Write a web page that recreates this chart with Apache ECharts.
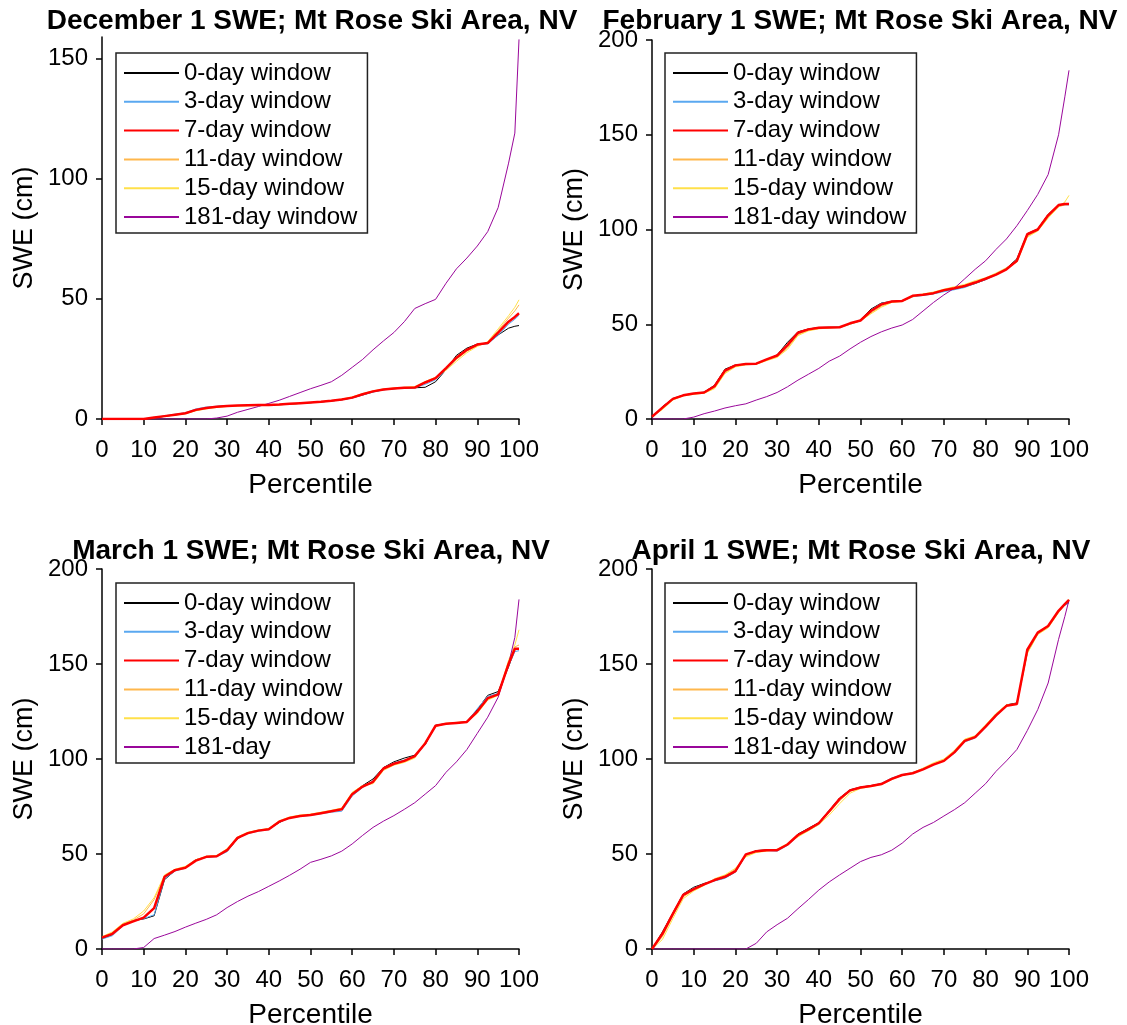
<!DOCTYPE html>
<html><head><meta charset="utf-8">
<script src="https://cdn.jsdelivr.net/npm/echarts@6/dist/echarts.min.js"></script>
<style>html,body{margin:0;padding:0;background:#fff}#c{width:1127px;height:1025px}</style>
</head><body><div id="c"></div>
<script>
const pct = [0,2.5,5,7.5,10,12.5,15,17.5,20,22.5,25,27.5,30,32.5,35,37.5,40,42.5,45,47.5,50,52.5,55,57.5,60,62.5,65,67.5,70,72.5,75,77.5,80,82.5,85,87.5,90,92.5,95,97.5,99,100];
const xTicks = [0,10,20,30,40,50,60,70,80,90,100];
const yTicksDec = [0,50,100,150];
const yTicks = [0,50,100,150,200];
const windowNames = ['0-day window','3-day window','7-day window','11-day window','15-day window'];
const titles = ['December 1 SWE; Mt Rose Ski Area, NV','February 1 SWE; Mt Rose Ski Area, NV','March 1 SWE; Mt Rose Ski Area, NV','April 1 SWE; Mt Rose Ski Area, NV'];
const longName181 = ['181-day window','181-day window','181-day','181-day window'];

// December 1
const dec0 = [0,0,0,0,0,0.5,1.1,1.7,2.3,3.6,4.7,5.2,5.5,5.6,5.7,5.8,5.9,6.0,6.2,6.5,6.8,7.1,7.5,8.0,8.8,10.0,11.3,12.2,12.6,12.9,13.0,13.2,15.5,20.5,26.5,29.5,31.2,31.5,35.0,37.8,38.6,38.9];
const dec3 = [0,0,0,0,0,0.6,1.3,2.0,2.6,4.2,5.0,5.3,5.5,5.6,5.7,5.8,5.8,5.9,6.2,6.5,6.8,7.1,7.5,8.0,8.7,10.0,11.2,12.1,12.6,12.9,13.0,14.4,16.3,20.6,25.0,28.5,30.8,31.3,34.8,39.5,41.5,43.2];
const dec7 = [0,0,0,0,0,0.6,1.2,1.8,2.4,3.8,4.6,5.1,5.4,5.6,5.7,5.8,5.8,6.0,6.3,6.6,6.9,7.2,7.6,8.1,8.9,10.3,11.5,12.3,12.7,13.0,13.1,15.2,17.0,21.2,25.5,28.8,31.0,31.6,36.0,40.5,42.5,44.0];
const dec11 = [0,0,0,0,0,0.6,1.2,1.8,2.3,3.6,4.4,5.0,5.3,5.5,5.6,5.7,5.8,5.9,6.2,6.5,6.8,7.2,7.6,8.2,9.1,10.5,11.6,12.4,12.8,13.1,13.3,15.4,17.2,20.8,24.8,28.2,30.6,31.8,36.8,42.0,45.0,47.5];
const dec15 = [0,0,0,0,0,0.5,1.1,1.6,2.2,3.4,4.2,4.8,5.2,5.4,5.5,5.6,5.7,5.9,6.2,6.5,6.8,7.2,7.6,8.3,9.2,10.6,11.7,12.5,12.9,13.2,13.5,15.6,17.4,20.3,24.0,27.6,30.2,32.2,37.5,43.0,46.5,49.6];
const dec181 = [0,0,0,0,0,0,0,0,0,0,0,0.4,1.2,2.8,4.0,5.2,6.5,7.8,9.4,11.0,12.6,14.0,15.5,18.2,21.5,24.8,28.8,32.5,36.0,40.5,46.0,48.0,49.8,56.5,62.5,67.0,72.0,78.0,88.0,106.5,119.0,158.0];

// February 1
const feb0 = [1.0,6.5,10.8,12.6,13.4,14.2,17.8,26.3,28.5,29.0,29.3,31.3,33.8,40.5,46.0,47.5,48.3,48.4,48.5,50.3,52.2,58.0,61.2,62.1,62.4,64.8,65.5,66.2,67.6,68.6,69.8,71.5,73.6,76.5,79.5,84.5,97.8,100.3,108.0,113.0,113.5,113.5];
const feb3 = [1.1,5.5,10.4,12.4,13.3,13.9,17.0,25.0,28.2,29.0,29.1,31.3,33.2,38.5,45.0,47.0,48.0,48.2,48.3,50.0,51.8,57.5,61.0,62.0,62.2,64.5,65.2,66.0,67.2,68.2,69.4,71.6,73.5,76.0,79.2,84.0,97.0,99.8,107.0,112.5,113.0,113.0];
const feb7 = [1.2,6.0,10.6,12.5,13.5,14.0,17.3,25.5,28.3,29.0,29.2,31.5,33.5,39.0,45.5,47.3,48.2,48.3,48.4,50.5,52.0,57.0,60.5,62.0,62.3,65.0,65.6,66.4,68.0,69.0,70.2,72.0,74.0,76.2,79.0,83.5,97.5,100.0,107.5,112.9,113.4,113.5];
const feb11 = [1.3,5.2,10.2,12.3,13.2,13.8,16.5,24.5,27.8,28.8,29.0,31.0,32.8,37.5,44.5,46.8,47.8,48.2,48.4,50.2,52.0,56.0,59.5,61.8,62.2,64.8,65.8,66.6,68.2,69.3,70.5,72.3,74.2,76.5,79.2,83.0,96.5,99.5,106.5,112.0,113.0,113.2];
const feb15 = [1.4,5.0,10.0,12.2,13.0,13.6,16.0,24.0,27.5,28.6,28.9,30.8,32.5,36.8,44.0,46.5,47.6,48.0,48.3,50.0,51.8,55.5,59.0,61.5,62.0,64.5,66.0,67.0,68.5,69.8,71.0,73.0,74.5,77.0,79.8,82.8,96.0,99.2,106.0,112.0,114.5,118.0];
const feb181 = [0,0,0,0,1.0,2.8,4.2,5.8,7.0,8.0,10.0,11.8,14.0,17.0,20.5,23.6,26.7,30.5,33.2,37.0,40.5,43.5,46.0,48.0,49.6,52.5,57.0,61.5,65.5,69.0,74.0,79.0,83.5,89.5,95.0,102.0,110.0,118.5,129.0,150.0,170.0,184.0];

// March 1
const mar0 = [5.5,7.5,13.0,15.0,15.8,17.5,36.5,41.2,43.0,47.0,48.4,48.9,51.5,58.0,61.2,62.5,63.2,66.5,69.2,70.2,70.6,71.6,72.6,73.8,82.0,86.0,89.5,95.5,98.5,100.5,102.0,107.5,117.8,118.6,119.0,119.8,126.0,133.5,135.5,148.5,157.5,158.0];
const mar3 = [5.2,7.0,12.2,14.8,16.0,18.0,37.0,41.0,42.5,46.8,48.2,48.6,51.2,58.2,60.8,62.0,62.8,66.6,69.0,69.8,70.3,71.2,72.0,72.5,80.5,85.0,88.5,95.2,98.0,99.5,100.8,107.8,117.6,118.4,119.0,119.6,126.5,133.0,134.5,149.0,156.5,157.0];
const mar7 = [6.0,8.0,12.5,14.5,16.5,21.5,38.0,41.5,42.8,46.5,48.5,48.8,52.0,58.5,61.0,62.3,63.0,67.0,69.0,70.0,70.5,71.5,72.5,73.5,81.5,85.5,88.0,95.0,97.5,99.0,101.5,108.2,117.5,118.5,119.0,119.5,125.0,132.0,134.0,150.0,158.0,158.0];
const mar11 = [6.3,8.6,13.2,15.2,18.5,26.0,38.5,41.8,43.0,46.8,48.6,49.0,52.5,58.8,61.2,62.4,63.2,67.2,69.2,70.2,70.8,71.8,72.8,74.0,82.0,85.8,87.5,94.5,97.0,98.5,101.0,108.5,117.2,118.6,119.2,119.5,124.5,131.5,133.8,151.0,159.0,160.0];
const mar15 = [6.5,9.0,13.5,15.8,20.0,27.0,39.0,42.0,43.5,47.0,48.8,49.2,52.8,59.0,61.5,62.6,63.5,67.5,69.5,70.5,71.0,72.0,73.0,74.2,82.5,86.0,87.0,94.0,96.8,98.2,100.5,109.0,117.0,118.8,119.3,119.5,124.0,131.0,133.5,152.0,160.0,168.0];
const mar181 = [0,0,0,0,0.8,5.5,7.3,9.2,11.5,13.6,15.6,18.0,21.8,25.0,27.8,30.2,33.0,35.8,38.8,42.0,45.6,47.2,49.0,51.5,55.3,59.8,64.0,67.3,70.2,73.5,77.0,81.5,86.0,93.0,98.5,105.0,113.5,122.0,132.5,150.0,164.0,184.0];

// April 1
const apr0 = [0,9.0,19.0,29.0,32.5,34.5,36.0,37.5,40.5,49.5,51.8,52.2,52.0,54.8,60.5,63.5,66.5,73.0,79.5,83.8,85.2,86.0,87.0,89.8,91.5,92.4,94.8,97.2,99.2,103.8,109.8,111.8,117.5,123.5,128.5,129.5,156.0,166.0,170.0,177.5,181.0,182.5];
const apr3 = [0,7.5,18.0,28.8,32.0,34.2,35.8,37.2,40.5,49.2,51.2,51.8,51.5,54.5,59.5,62.5,65.5,73.0,79.2,83.5,85.0,85.8,87.2,90.0,91.8,92.8,95.0,97.2,99.0,103.0,109.0,111.0,116.5,122.5,128.0,129.2,157.0,166.0,169.8,177.8,181.0,182.0];
const apr7 = [0,8.0,18.5,28.5,31.5,34.0,36.3,38.0,41.0,49.8,51.5,52.0,52.0,55.0,60.0,63.0,66.2,72.5,79.0,83.5,85.0,85.8,86.8,89.5,91.6,92.5,94.5,97.0,99.0,103.5,109.5,111.5,117.0,123.0,128.0,129.0,157.5,166.5,170.0,178.0,181.5,183.7];
const apr11 = [0,6.5,17.5,27.5,31.0,33.8,36.5,38.5,42.0,49.0,51.0,51.8,52.2,55.2,59.5,62.8,66.0,71.8,78.0,83.0,84.8,85.8,86.8,89.5,91.6,92.6,94.8,97.5,99.5,104.0,110.0,112.0,117.5,123.5,128.2,129.0,156.5,165.8,169.5,177.5,181.5,183.5];
const apr15 = [0,5.0,16.0,26.5,30.5,33.5,37.0,39.0,42.5,48.5,50.8,51.5,52.5,55.5,59.0,62.2,65.5,70.5,76.5,82.0,84.5,85.5,86.5,89.2,91.4,92.8,95.2,98.0,100.0,104.5,110.5,112.2,118.0,124.0,128.5,129.0,155.5,165.5,169.0,177.0,181.8,184.0];
const apr181 = [0,0,0,0,0,0,0,0,0,0,3.0,9.0,12.8,16.2,21.2,26.0,31.0,35.3,39.0,42.5,46.0,48.2,49.6,52.0,55.7,60.5,64.0,66.6,70.0,73.3,77.0,82.0,87.0,93.5,99.0,105.0,115.0,126.0,140.0,163.0,175.0,183.7];

const panelData = [
  [dec0,dec3,dec7,dec11,dec15,dec181],
  [feb0,feb3,feb7,feb11,feb15,feb181],
  [mar0,mar3,mar7,mar11,mar15,mar181],
  [apr0,apr3,apr7,apr11,apr15,apr181]
];

const FONT = '"Liberation Sans", Arial, Helvetica, sans-serif';
const colors = ['#000000','#5aa8f0','#ff0000','#ffb74d','#ffe04a','#99079a'];
const widths = [1,1,2.5,1,1,1];
const layout = [
  {grid:{left:102,top:37,width:417,height:382}, ymax:159, yt:yTicksDec, tx:312, ty:21, ll:116, lt:53},
  {grid:{left:652,top:40,width:417,height:379}, ymax:200, yt:yTicks, tx:860, ty:21, ll:665, lt:53},
  {grid:{left:102,top:569,width:417,height:380}, ymax:200, yt:yTicks, tx:311, ty:551, ll:116, lt:583},
  {grid:{left:652,top:569,width:417,height:380}, ymax:200, yt:yTicks, tx:861, ty:551, ll:665, lt:583}
];

const grids=[], xAxes=[], yAxes=[], series=[], legends=[], graphics=[];
layout.forEach((L,i)=>{
  grids.push(Object.assign({containLabel:false, outerBoundsMode:'none'}, L.grid));
  xAxes.push({
    type:'value', gridIndex:i, min:0, max:100, interval:10,
    name:'Percentile', nameLocation:'middle', nameGap:52,
    nameTextStyle:{fontFamily:FONT, fontSize:28, color:'#000'},
    axisLine:{show:true, onZero:false, lineStyle:{color:'#000', width:1.5}},
    axisTick:{show:true, inside:false, length:6, lineStyle:{color:'#000', width:1.5}},
    axisLabel:{fontFamily:FONT, fontSize:24, color:'#000', margin:19, customValues:xTicks},
    splitLine:{show:false}
  });
  yAxes.push({
    type:'value', gridIndex:i, min:0, max:L.ymax,
    name:'SWE (cm)', nameLocation:'middle', nameGap:64, nameRotate:90,
    nameTextStyle:{fontFamily:FONT, fontSize:27, color:'#000'},
    axisLine:{show:true, onZero:false, lineStyle:{color:'#000', width:1.5}},
    axisTick:{show:true, inside:false, length:6, lineStyle:{color:'#000', width:1.5}, customValues:L.yt},
    axisLabel:{fontFamily:FONT, fontSize:24, color:'#000', margin:14, customValues:L.yt},
    splitLine:{show:false}
  });
  const names = windowNames.concat([longName181[i]]);
  panelData[i].forEach((arr,k)=>{
    series.push({
      type:'line', name:names[k], xAxisIndex:i, yAxisIndex:i,
      data:pct.map((p,j)=>[p,arr[j]]),
      symbol:'none', smooth:false,
      lineStyle:{color:colors[k], width:widths[k]},
      itemStyle:{color:colors[k]},
      z: k===2 ? 3 : 2
    });
  });
  legends.push({
    data:names, orient:'vertical', left:L.ll, top:L.lt,
    itemWidth:55, itemHeight:12, itemGap:4.8,
    padding:[8,10,4,7],
    borderColor:'#222', borderWidth:1.5, backgroundColor:'#fff',
    itemStyle:{opacity:0},
    textStyle:{fontFamily:FONT, fontSize:24, color:'#000', lineHeight:24},
    selectedMode:false
  });
  graphics.push({
    type:'text', x:L.tx, y:L.ty, z:100,
    style:{text:titles[i], font:'bold 28px "Liberation Sans", Arial, sans-serif', fill:'#000',
           align:'center', verticalAlign:'middle', textAlign:'center', textVerticalAlign:'middle'}
  });
});

const chart = echarts.init(document.getElementById('c'), null, {renderer:'canvas'});
chart.setOption({
  animation:false,
  backgroundColor:'#fff',
  grid:grids, xAxis:xAxes, yAxis:yAxes, legend:legends, series:series,
  graphic:graphics
});
</script></body></html>
